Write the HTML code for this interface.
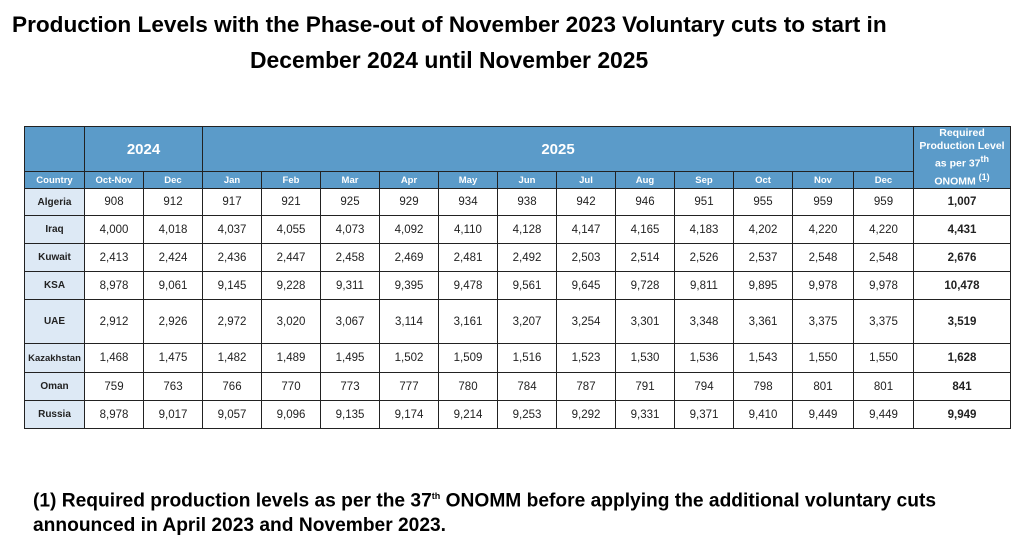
<!DOCTYPE html>
<html><head><meta charset="utf-8"><style>
body{margin:0;width:1024px;height:542px;background:#fff;font-family:"Liberation Sans",Arial,sans-serif;position:relative;overflow:hidden}
.t1{position:absolute;left:12px;top:12px;font-size:22.6px;font-weight:bold;color:#000;white-space:nowrap}
.t2{position:absolute;left:250px;top:47px;font-size:22.9px;font-weight:bold;color:#000;white-space:nowrap}
table{position:absolute;left:24px;top:126px;border-collapse:collapse;table-layout:fixed}
td{border:1px solid #222;text-align:center;font-size:11.5px;color:#222;padding:0}
.h{background:#5b9bc9;color:#fff;font-weight:bold}
.c{background:#dde9f5;font-weight:bold;font-size:10px}
.r{font-weight:bold}
.note{position:absolute;left:33px;top:484px;font-size:19.2px;font-weight:bold;line-height:25px;color:#000;white-space:nowrap}
sup{font-size:9px}
</style></head><body>
<div class="t1">Production Levels with the Phase-out of November 2023 Voluntary cuts to start in</div>
<div class="t2">December 2024 until November 2025</div>
<table>
<colgroup><col style="width:60px"><col style="width:59px"><col style="width:59px"><col style="width:59px"><col style="width:59px"><col style="width:59px"><col style="width:59px"><col style="width:59px"><col style="width:59px"><col style="width:59px"><col style="width:59px"><col style="width:59px"><col style="width:59px"><col style="width:61px"><col style="width:60px"><col style="width:97px"></colgroup>
<tr style="height:45px"><td class="h"></td><td class="h" colspan="2" style="font-size:15px">2024</td><td class="h" colspan="12" style="font-size:15px">2025</td><td class="h" rowspan="2" style="font-size:10.5px;line-height:13px">Required Production Level as per 37<sup>th</sup> ONOMM <sup>(1)</sup></td></tr>
<tr style="height:17px"><td class="h" style="font-size:9.5px">Country</td><td class="h" style="font-size:9.5px">Oct-Nov</td><td class="h" style="font-size:9.5px">Dec</td><td class="h" style="font-size:9.5px">Jan</td><td class="h" style="font-size:9.5px">Feb</td><td class="h" style="font-size:9.5px">Mar</td><td class="h" style="font-size:9.5px">Apr</td><td class="h" style="font-size:9.5px">May</td><td class="h" style="font-size:9.5px">Jun</td><td class="h" style="font-size:9.5px">Jul</td><td class="h" style="font-size:9.5px">Aug</td><td class="h" style="font-size:9.5px">Sep</td><td class="h" style="font-size:9.5px">Oct</td><td class="h" style="font-size:9.5px">Nov</td><td class="h" style="font-size:9.5px">Dec</td></tr>
<tr style="height:27px"><td class="c">Algeria</td><td>908</td><td>912</td><td>917</td><td>921</td><td>925</td><td>929</td><td>934</td><td>938</td><td>942</td><td>946</td><td>951</td><td>955</td><td>959</td><td>959</td><td class="r">1,007</td></tr>
<tr style="height:28px"><td class="c">Iraq</td><td>4,000</td><td>4,018</td><td>4,037</td><td>4,055</td><td>4,073</td><td>4,092</td><td>4,110</td><td>4,128</td><td>4,147</td><td>4,165</td><td>4,183</td><td>4,202</td><td>4,220</td><td>4,220</td><td class="r">4,431</td></tr>
<tr style="height:28px"><td class="c">Kuwait</td><td>2,413</td><td>2,424</td><td>2,436</td><td>2,447</td><td>2,458</td><td>2,469</td><td>2,481</td><td>2,492</td><td>2,503</td><td>2,514</td><td>2,526</td><td>2,537</td><td>2,548</td><td>2,548</td><td class="r">2,676</td></tr>
<tr style="height:28px"><td class="c">KSA</td><td>8,978</td><td>9,061</td><td>9,145</td><td>9,228</td><td>9,311</td><td>9,395</td><td>9,478</td><td>9,561</td><td>9,645</td><td>9,728</td><td>9,811</td><td>9,895</td><td>9,978</td><td>9,978</td><td class="r">10,478</td></tr>
<tr style="height:44px"><td class="c">UAE</td><td>2,912</td><td>2,926</td><td>2,972</td><td>3,020</td><td>3,067</td><td>3,114</td><td>3,161</td><td>3,207</td><td>3,254</td><td>3,301</td><td>3,348</td><td>3,361</td><td>3,375</td><td>3,375</td><td class="r">3,519</td></tr>
<tr style="height:29px"><td class="c" style="font-size:9.5px">Kazakhstan</td><td>1,468</td><td>1,475</td><td>1,482</td><td>1,489</td><td>1,495</td><td>1,502</td><td>1,509</td><td>1,516</td><td>1,523</td><td>1,530</td><td>1,536</td><td>1,543</td><td>1,550</td><td>1,550</td><td class="r">1,628</td></tr>
<tr style="height:28px"><td class="c">Oman</td><td>759</td><td>763</td><td>766</td><td>770</td><td>773</td><td>777</td><td>780</td><td>784</td><td>787</td><td>791</td><td>794</td><td>798</td><td>801</td><td>801</td><td class="r">841</td></tr>
<tr style="height:28px"><td class="c">Russia</td><td>8,978</td><td>9,017</td><td>9,057</td><td>9,096</td><td>9,135</td><td>9,174</td><td>9,214</td><td>9,253</td><td>9,292</td><td>9,331</td><td>9,371</td><td>9,410</td><td>9,449</td><td>9,449</td><td class="r">9,949</td></tr>
</table>
<div class="note">(1) Required production levels as per the 37<sup>th</sup> ONOMM before applying the additional voluntary cuts<br>announced in April 2023 and November 2023.</div>
</body></html>
